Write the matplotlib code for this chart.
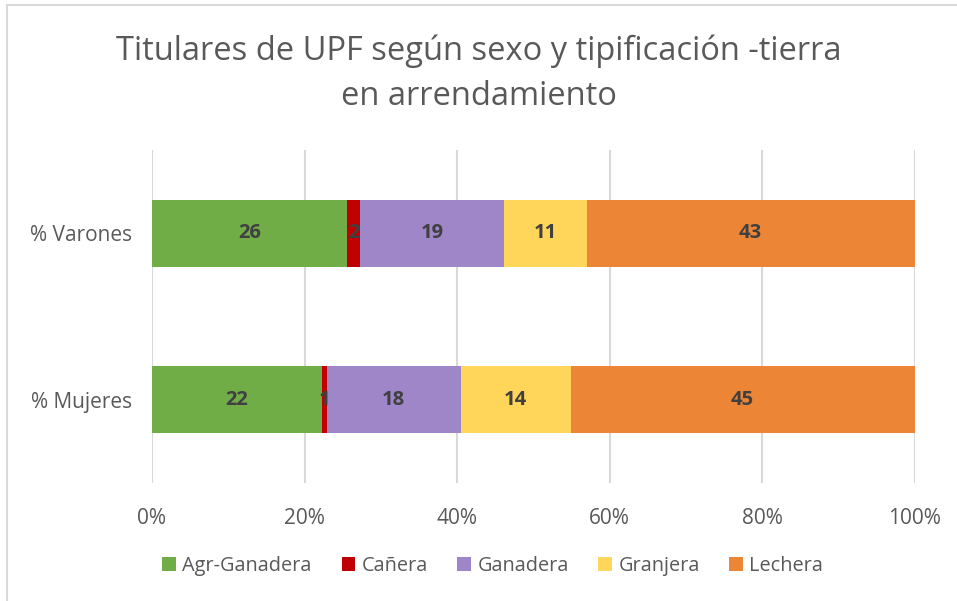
import numpy as np
import matplotlib.pyplot as plt
from matplotlib.patches import Rectangle

categories = ['% Mujeres', '% Varones']
series = ['Agr-Ganadera', 'Cañera', 'Ganadera', 'Granjera', 'Lechera']
# percent shares (labels are the rounded values)
agr_ganadera = [22.3, 25.6]
canera = [0.6, 1.7]
ganadera = [17.6, 18.8]
granjera = [14.4, 10.9]
lechera = [45.1, 43.0]
colors = ['#70ad47', '#c00000', '#9e86c8', '#ffd55a', '#ed8536']

values = np.array([agr_ganadera, canera, ganadera, granjera, lechera])

plt.rcParams['font.family'] = ['Open Sans', 'DejaVu Sans']

fig = plt.figure(figsize=(9.57, 6.01), dpi=100)
ax = fig.add_axes([152/957, 1-483/601, (914.5-152)/957, 333/601])

# outer chart border (only top/left visible in the crop)
fig.patches.append(Rectangle((7/957, -0.1), 1.2, 1-5/601+0.1, transform=fig.transFigure,
                             fill=False, edgecolor='#d9d9d9', linewidth=1.5))

y = np.arange(len(categories))
left = np.zeros(len(categories))
for name, vals, c in zip(series, values, colors):
    ax.barh(y, vals, left=left, height=0.4, color=c, label=name, zorder=3)
    for yi, l, v in zip(y, left, vals):
        ax.text(l + v/2, yi, '%.0f' % v, ha='center', va='center',
                fontsize=14.5, fontweight='bold', color='#404040', zorder=4)
    left += vals

ax.set_xlim(0, 100)
ax.set_ylim(-0.5, 1.5)
ax.set_xticks(np.arange(0, 101, 20))
ax.set_xticklabels(['%d%%' % t for t in range(0, 101, 20)])
ax.set_yticks(y)
ax.set_yticklabels(categories)
ax.grid(axis='x', color='#d9d9d9', linewidth=1.5, zorder=0)
for s in ax.spines.values():
    s.set_visible(False)
ax.tick_params(length=0, labelsize=15, labelcolor='#595959')
ax.tick_params(axis='x', pad=18)
ax.tick_params(axis='y', pad=14)

fig.suptitle('Titulares de UPF según sexo y tipificación -tierra\nen arrendamiento',
             y=0.943, fontsize=23.5, color='#595959', linespacing=1.5)

fig.legend(loc='center', bbox_to_anchor=(0.515, 1-566/601), ncol=5, frameon=False,
           fontsize=14.3, labelcolor='#595959', handlelength=0.7, handleheight=0.7,
           handletextpad=0.3, columnspacing=1.5)

fig.savefig('out.png', dpi=100)
